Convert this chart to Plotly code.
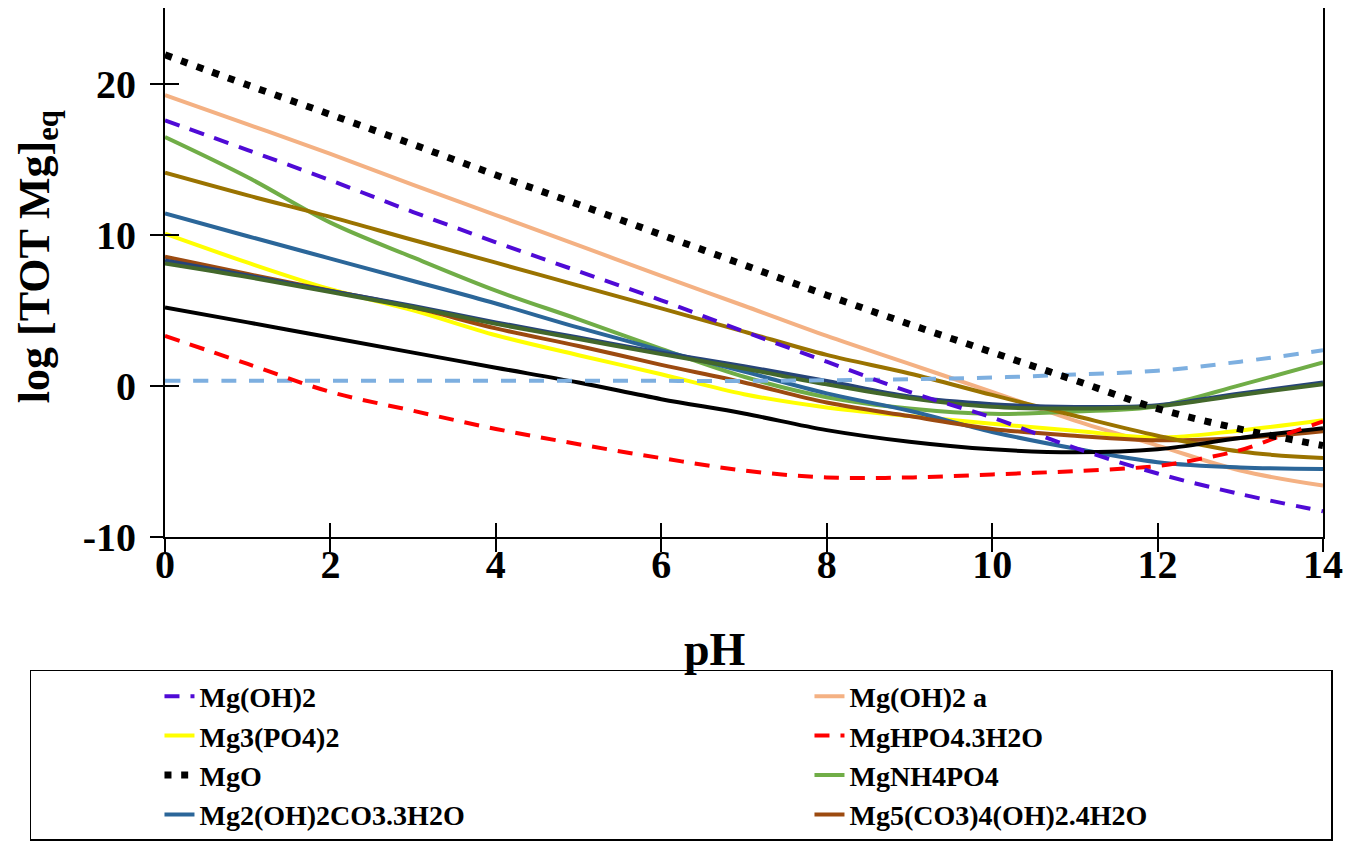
import plotly.graph_objects as go

# ---------------- data ----------------
ph = [0, 1, 2, 3, 4, 5, 6, 7, 8, 9, 10, 11, 12, 13, 14]

mg_oh2   = [17.56, 15.6, 13.6, 11.5, 9.5, 7.58, 5.66, 3.6, 1.6, -0.4, -2.1, -4.1, -5.8, -7.16, -8.3]
mg_oh2_a = [19.23, 17.3, 15.35, 13.3, 11.3, 9.3, 7.27, 5.3, 3.3, 1.45, -0.4, -2.3, -3.95, -5.6, -6.6]
mg3po42  = [10.07, 8.15, 6.39, 5.0, 3.35, 2.03, 0.77, -0.55, -1.43, -2.0, -2.5, -2.97, -3.42, -2.95, -2.27]
mgo      = [21.9, 19.9, 17.95, 15.97, 13.95, 12.0, 10.0, 8.0, 6.0, 4.08, 2.22, 0.37, -1.5, -2.86, -3.95]
mgnh4po4 = [16.46, 13.8, 10.8, 8.5, 6.3, 4.4, 2.45, 0.6, -0.75, -1.5, -1.85, -1.7, -1.35, 0.05, 1.55]
mg2oh2co3 = [11.4, 9.9, 8.42, 6.94, 5.45, 3.85, 2.35, 0.95, -0.5, -1.65, -3.05, -4.15, -5.05, -5.4, -5.5]
mg5co34oh2 = [8.55, 7.4, 6.3, 5.2, 3.8, 2.64, 1.39, 0.22, -1.1, -2.0, -2.85, -3.3, -3.6, -3.45, -3.0]

ph_hpo4 = [0, 1, 2, 3, 4, 5, 6, 7, 8, 9, 10, 11, 12, 12.5, 13, 13.5, 14]
mghpo4  = [3.3, 1.45, -0.4, -1.65, -2.85, -3.86, -4.78, -5.6, -6.06, -6.06, -5.86, -5.64, -5.3, -4.85, -4.25, -3.3, -2.35]

# series drawn in the chart but not listed in the visible legend
extra_lightblue = [0.33, 0.33, 0.33, 0.33, 0.33, 0.33, 0.33, 0.33, 0.37, 0.44, 0.55, 0.75, 1.0, 1.6, 2.35]
extra_gold      = [14.1, 12.6, 11.18, 9.65, 8.15, 6.63, 5.13, 3.59, 2.05, 0.82, -0.6, -1.98, -3.3, -4.35, -4.78]
extra_black     = [5.18, 4.2, 3.2, 2.2, 1.2, 0.22, -0.88, -1.83, -2.93, -3.7, -4.2, -4.4, -4.2, -3.45, -2.8]
extra_navy      = [8.3, 7.3, 6.28, 5.29, 4.2, 3.2, 2.2, 1.3, 0.33, -0.7, -1.21, -1.4, -1.28, -0.5, 0.22]
extra_dkgreen   = [8.1, 7.2, 6.2, 5.2, 4.1, 3.1, 2.1, 1.15, 0.1, -0.8, -1.39, -1.5, -1.35, -0.6, 0.11]

x_ticks = [0, 2, 4, 6, 8, 10, 12, 14]
y_ticks = [-10, 0, 10, 20]
y_ticktext = ["-10", "0", "10", "20"]

FONT = "Times New Roman, Liberation Serif, serif"
W = 4

fig = go.Figure()

def add(x, y, name, color, rank, dash="solid", width=W, legend=True):
    fig.add_trace(go.Scatter(
        x=x, y=y, name=name, mode="lines",
        line=dict(color=color, width=width, dash=dash, shape="spline", smoothing=1.0),
        showlegend=legend, legendrank=rank, hoverinfo="skip"))

add(ph, mg_oh2_a, "Mg(OH)2 a", "#F4B183", 2)
add(ph, mg3po42, "Mg3(PO4)2", "#FFFF00", 3)
add(ph, mgnh4po4, "MgNH4PO4", "#70AD47", 6)
add(ph, mg2oh2co3, "Mg2(OH)2CO3.3H2O", "#2B6699", 7)
add(ph, mg5co34oh2, "Mg5(CO3)4(OH)2.4H2O", "#9C4A10", 8)
add(ph, extra_gold, "Series 10", "#9A7300", 10, legend=False)
add(ph, extra_black, "Series 11", "#000000", 11, legend=False)
add(ph, extra_navy, "Series 12", "#264478", 12, legend=False)
add(ph, extra_dkgreen, "Series 13", "#43682B", 13, legend=False)
add(ph, extra_lightblue, "Series 9", "#7DAFE0", 9, dash="15px,13px", legend=False)
add(ph_hpo4, mghpo4, "MgHPO4.3H2O", "#FF0000", 4, dash="15px,11px")
add(ph, mg_oh2, "Mg(OH)2", "#4F0AD6", 1, dash="15px,11px")
add(ph, mgo, "MgO", "#000000", 5, dash="7px,9.7px", width=7)

# dummy trace carrying the outer tick marks (cross ticks with the inner ones)
fig.add_trace(go.Scatter(x=[None], y=[None], xaxis="x2", yaxis="y2",
                         showlegend=False, hoverinfo="skip"))

tickfont = dict(family=FONT, size=40, color="black", weight="bold")

fig.update_layout(
    width=1364, height=842, autosize=False,
    margin=dict(l=165, r=41, t=8, b=305, autoexpand=False),
    paper_bgcolor="white", plot_bgcolor="white",
    xaxis=dict(range=[0, 14], tickvals=x_ticks, ticks="inside", ticklen=14, tickwidth=2,
               tickcolor="black", showline=True, linecolor="black", linewidth=2,
               showgrid=False, zeroline=False, tickfont=tickfont, ticklabelstandoff=-9),
    yaxis=dict(range=[-10, 25], tickvals=y_ticks, ticktext=y_ticktext, ticks="inside",
               ticklen=14, tickwidth=2, tickcolor="black", showline=True, linecolor="black",
               linewidth=2, mirror=True, showgrid=False, zeroline=False, tickfont=tickfont,
               ticklabelstandoff=19),
    xaxis2=dict(range=[0, 14], tickvals=x_ticks, ticks="outside", ticklen=14, tickwidth=2,
                tickcolor="black", overlaying="x", anchor="y", side="bottom",
                showticklabels=False, showline=False, showgrid=False, zeroline=False),
    yaxis2=dict(range=[-10, 25], tickvals=y_ticks, ticks="outside", ticklen=14, tickwidth=2,
                tickcolor="black", overlaying="y", anchor="x", side="left",
                showticklabels=False, showline=False, showgrid=False, zeroline=False),
    legend=dict(orientation="h", x=-0.1166, y=-0.2514, xanchor="left", yanchor="top",
                entrywidth=477, entrywidthmode="pixels", indentation=128,
                bordercolor="black", borderwidth=1.5, bgcolor="white",
                font=dict(family=FONT, size=28, color="black", weight="bold")),
    annotations=[
        dict(text="pH", xref="paper", yref="paper", x=0.475, y=-0.213,
             xanchor="center", yanchor="middle", showarrow=False,
             font=dict(family=FONT, size=46, color="black", weight="bold")),
        dict(text="log [TOT Mg]<sub>eq</sub>", xref="paper", yref="paper",
             x=-0.11, y=0.53, xanchor="center", yanchor="middle", textangle=-90,
             showarrow=False,
             font=dict(family=FONT, size=44, color="black", weight="bold")),
    ],
)

fig.write_html("out.html")
